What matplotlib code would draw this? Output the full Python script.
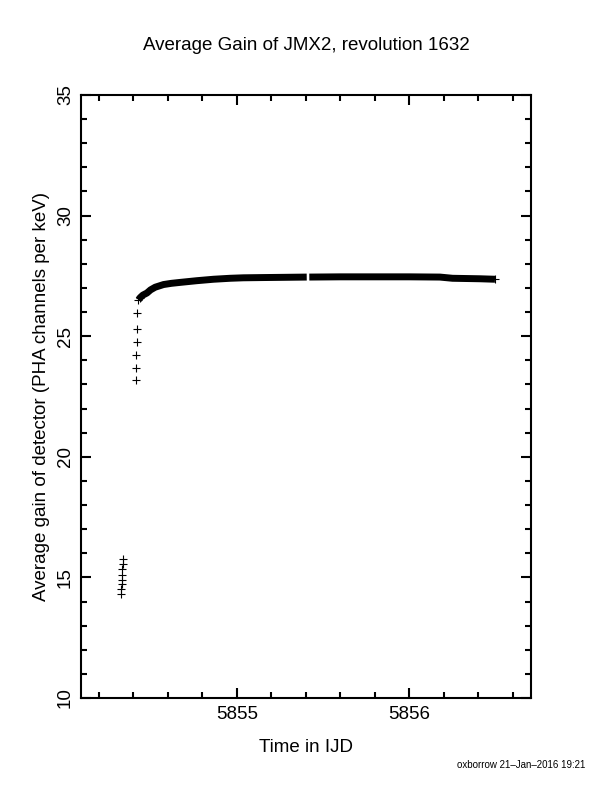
import matplotlib
matplotlib.use("Agg")
import matplotlib.pyplot as plt
from matplotlib.ticker import MultipleLocator

plt.rcParams['font.family'] = ['Liberation Sans', 'DejaVu Sans']

# early low-gain points
x_low = [5854.326, 5854.326, 5854.332, 5854.332, 5854.337, 5854.337, 5854.343, 5854.343]
y_low = [14.31, 14.50, 14.71, 14.90, 15.11, 15.35, 15.55, 15.76]

# ramp-up points
x_ramp = [5854.413, 5854.415, 5854.418, 5854.420, 5854.422, 5854.424]
y_ramp = [23.18, 23.67, 24.21, 24.76, 25.31, 25.95]

# dense plateau, first part (before the small gap)
x_seg1 = [5854.430, 5854.440, 5854.455, 5854.479, 5854.500, 5854.527, 5854.575, 5854.620,
          5854.672, 5854.768, 5854.865, 5854.961, 5855.038, 5855.150, 5855.280, 5855.405]
y_seg1 = [26.51, 26.60, 26.70, 26.79, 26.92, 27.03, 27.14, 27.19,
          27.23, 27.30, 27.36, 27.40, 27.42, 27.43, 27.44, 27.45]

# dense plateau, second part
x_seg2 = [5855.420, 5855.600, 5855.800, 5856.000, 5856.177, 5856.250, 5856.409, 5856.496]
y_seg2 = [27.45, 27.46, 27.46, 27.46, 27.45, 27.40, 27.38, 27.36]

fig = plt.figure(figsize=(6.12, 7.92), dpi=100)
ax = fig.add_axes([0.1324, 0.1187, 0.7353, 0.7614])

mk = dict(marker='+', color='black', markersize=5.2, markeredgewidth=0.8, linestyle='none')
ax.plot(x_low, y_low, **mk)
ax.plot(x_ramp, y_ramp, **mk)
for xs, ys in [(x_seg1, y_seg1), (x_seg2, y_seg2)]:
    ax.plot(xs, ys, color='black', linewidth=5.0, solid_capstyle='butt')
ax.plot(x_seg1[:2], y_seg1[:2], **mk)
ax.plot(x_seg2[-1:], y_seg2[-1:], **mk)

ax.set_xlim(5854.097, 5856.705)
ax.set_ylim(10, 35)
ax.xaxis.set_major_locator(MultipleLocator(1))
ax.xaxis.set_minor_locator(MultipleLocator(0.2))
ax.yaxis.set_major_locator(MultipleLocator(5))
ax.yaxis.set_minor_locator(MultipleLocator(1))

for s in ax.spines.values():
    s.set_linewidth(1.5)
ax.tick_params(which='both', direction='in', top=True, right=True, width=1.5,
               labelsize=13.5)
ax.tick_params(which='major', length=7)
ax.tick_params(which='minor', length=4.5)
ax.tick_params(axis='x', pad=6)
ax.tick_params(axis='y', pad=5)
for lab in ax.get_yticklabels():
    lab.set_rotation(90)
    lab.set_va('center')

fig.text(0.5, 0.942, 'Average Gain of JMX2, revolution 1632', ha='center', va='center', fontsize=13.5)
fig.text(0.5, 0.0568, 'Time in IJD', ha='center', va='center', fontsize=13.5)
fig.text(0.0686, 0.4994, 'Average gain of detector (PHA channels per keV)', rotation=90,
         ha='center', va='center', fontsize=13.5)
fig.text(0.956, 0.034, 'oxborrow 21\u2013Jan\u20132016 19:21', ha='right', va='center', fontsize=7)

fig.savefig('out.png', dpi=100)
